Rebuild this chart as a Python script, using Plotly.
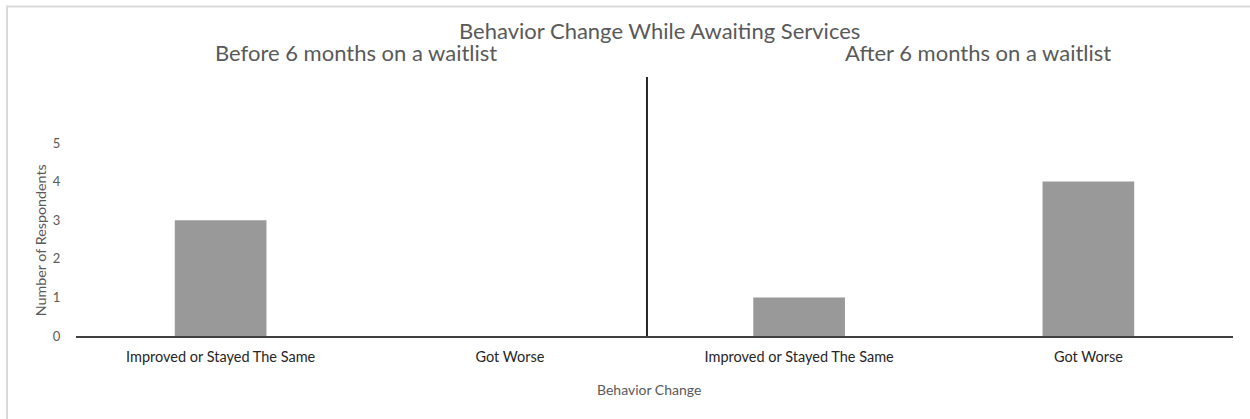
import plotly.graph_objects as go

# ---- data ----
periods = ["Before 6 months on a waitlist", "After 6 months on a waitlist"]
changes = ["Improved or Stayed The Same", "Got Worse"]
values_before = [3, 0]
values_after = [1, 4]
y_ticks = [0, 1, 2, 3, 4, 5]

title_text = "Behavior Change While Awaiting Services"
x_title = "Behavior Change"
y_title = "Number of Respondents"

# build category ids (unique per period) and their display labels
cat_ids = []
cat_labels = []
vals = []
for p, pv in zip(periods, [values_before, values_after]):
    for c, v in zip(changes, pv):
        cat_ids.append(p + " | " + c)
        cat_labels.append(c)
        vals.append(v)

FONT = "Lato, 'Open Sans', sans-serif"
GRAY = "#595959"

fig = go.Figure(
    go.Bar(
        x=cat_ids,
        y=vals,
        marker=dict(color="#999999", line=dict(width=0)),
        hoverinfo="x+y",
    )
)

fig.update_layout(
    width=1250,
    height=419,
    margin=dict(l=76, r=17, t=77, b=83),
    paper_bgcolor="white",
    plot_bgcolor="white",
    bargap=0.683,
    showlegend=False,
    font=dict(family=FONT, color=GRAY),
)

fig.update_xaxes(
    type="category",
    tickmode="array",
    tickvals=cat_ids,
    ticktext=cat_labels,
    tickfont=dict(family=FONT, size=14.5, color="#262626"),
    showline=True,
    linecolor="#404040",
    linewidth=2,
    showgrid=False,
    zeroline=False,
    ticks="outside",
    ticklen=7,
    tickcolor="rgba(0,0,0,0)",
    fixedrange=True,
)

fig.update_yaxes(
    range=[0, 6.71],
    tickmode="array",
    tickvals=y_ticks,
    tickfont=dict(family=FONT, size=13, color=GRAY),
    showgrid=False,
    zeroline=False,
    showline=False,
    ticks="outside",
    ticklen=12,
    tickcolor="rgba(0,0,0,0)",
    fixedrange=True,
)

annotations = [
    dict(text=title_text, xref="paper", yref="paper", x=0.504, y=1.181,
         showarrow=False, xanchor="center", yanchor="middle",
         font=dict(family=FONT, size=22, color=GRAY)),
    dict(text=periods[0], xref="paper", yref="paper", x=0.242, y=1.093,
         showarrow=False, xanchor="center", yanchor="middle",
         font=dict(family=FONT, size=22, color=GRAY)),
    dict(text=periods[1], xref="paper", yref="paper", x=0.78, y=1.093,
         showarrow=False, xanchor="center", yanchor="middle",
         font=dict(family=FONT, size=22, color=GRAY)),
    dict(text=x_title, xref="paper", yref="paper", x=0.495, y=-0.205,
         showarrow=False, xanchor="center", yanchor="middle",
         font=dict(family=FONT, size=14, color=GRAY)),
    dict(text=y_title, xref="paper", yref="paper", x=-0.031, y=0.37,
         showarrow=False, xanchor="center", yanchor="middle", textangle=-90,
         font=dict(family=FONT, size=14.3, color=GRAY)),
]
fig.update_layout(annotations=annotations)

shapes = [
    # divider between the two periods
    dict(type="line", xref="paper", yref="paper", x0=0.4935, x1=0.4935, y0=0, y1=1,
         line=dict(color="#262626", width=2)),
    # outer chart border (right and bottom edges fall outside the view)
    dict(type="rect", xref="paper", yref="paper", x0=-0.0596, x1=1.05,
         y0=-0.4, y1=1.272, line=dict(color="#d9d9d9", width=2),
         fillcolor="rgba(0,0,0,0)", layer="below"),
]
fig.update_layout(shapes=shapes)

fig.write_html("out.html")
